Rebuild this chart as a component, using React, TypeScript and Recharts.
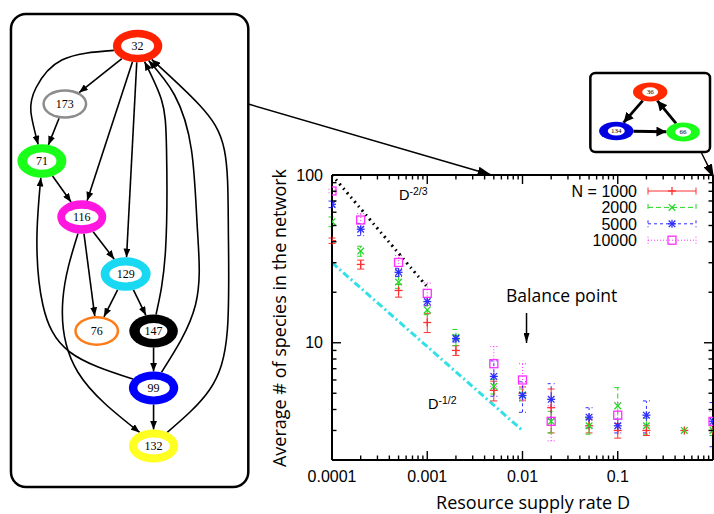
import React from "react";
import {
  ComposedChart,
  ScatterChart,
  Scatter,
  XAxis,
  YAxis,
  ErrorBar,
  ReferenceLine,
  ReferenceArea,
  Legend,
} from "recharts";

// Resource supply rate D (shared x values)
const supplyRate = [0.0001, 0.0002, 0.0005, 0.001, 0.002, 0.005, 0.01, 0.02, 0.05, 0.1, 0.2, 0.5, 1];

// Average # of species per network size N (null = no point drawn)
const speciesN1000 = [40.6, 29.3, 20.5, 13.2, 9.0, 5.2, 5.0, 4.1, 3.2, 3.0, 3.0, 3.0, 3.0];
const errN1000 = [1.5, 1.8, 1.8, 1.7, 0.6, 0.7, 0.45, 1.2, 0.3, 0.3, 0.2, 0, 0.2];
const speciesN2000 = [52.7, 35.2, 23.0, 15.7, 10.8, 5.5, 4.9, 3.4, 3.2, 4.2, 3.2, 3.0, 3.0];
const errN2000 = [3.5, 2.4, 1.9, 1.0, 1.2, 0.55, 0.4, 0.5, 0.35, 1.2, 0.35, 0, 0.2];
const speciesN5000 = [66.9, 47.5, 26.3, 17.6, 10.6, 6.3, 4.85, 4.6, 3.6, 3.2, 3.7, null, 3.4];
const errN5000 = [3, 4, 1.5, 1.0, 0.5, 1.5, 1.0, 1.1, 0.5, 0.3, 0.8, 0, 1.0];
const speciesN10000 = [80.3, 53.9, 30.1, 19.7, null, 7.5, 6.0, 3.4, null, 3.7, null, null, 3.4];
const errN10000 = [2, 5, 3, 3, 0, 2, 1.5, 0.8, 0, 0.7, 0, 0, 0.5];

const seriesNames = ["N = 1000", "2000", "5000", "10000"];
const seriesValues = [speciesN1000, speciesN2000, speciesN5000, speciesN10000];
const seriesErrors = [errN1000, errN2000, errN5000, errN10000];

// power-law guide lines
const slopeTwoThirds = [{ x: 0.0001, y: 100 }, { x: 0.001, y: 21.5 }];
const slopeOneHalf = [{ x: 0.0001, y: 30 }, { x: 0.01, y: 3 }];

// ticks
const xMajorTicks = [0.0001, 0.001, 0.01, 0.1, 1];
const xTickLabels = ["0.0001", "0.001", "0.01", "0.1", ""];
const xMinorTicks = [0.0001, 0.001, 0.01, 0.1].flatMap((d) => [2, 3, 4, 5, 6, 7, 8, 9].map((m) => m * d));
const yMajorTicks = [10, 100];
const yTickLabels = ["10", "100"];
const yMinorTicks = [2, 3, 4, 5, 6, 7, 8, 9, 20, 30, 40, 50, 60, 70, 80, 90];

// network (left panel)
const graphNodes = ["32", "173", "71", "116", "129", "76", "147", "99", "132"];
const graphX = [138, 65, 42, 82, 126, 97, 154, 154, 154];
const graphY = [46, 104, 161, 217, 274, 331, 331, 388, 446];
const graphEdges: [string, string][] = [
  ["32", "173"], ["32", "71"], ["173", "71"], ["32", "116"], ["32", "129"],
  ["71", "116"], ["116", "129"], ["116", "76"], ["116", "132"], ["99", "71"],
  ["129", "76"], ["129", "147"], ["147", "99"], ["99", "132"],
  ["147", "32"], ["99", "32"], ["132", "32"],
];
const edgeBends: Record<string, [number, number][]> = {
  "32-71": [[62, 60], [36, 88], [31, 112]],
  "116-132": [[63, 300], [78, 372]],
  "99-71": [[70, 352], [43, 305], [37, 240]],
  "147-32": [[166, 250], [167, 150], [162, 100]],
  "99-32": [[196, 305], [198, 230], [192, 150], [175, 95]],
  "132-32": [[210, 390], [228, 330], [229, 230], [225, 150], [200, 105]],
};

// network (inset)
const insetNodes = ["36", "134", "66"];
const insetX = [652, 618, 685];
const insetY = [92, 131, 132];
const insetEdges: [string, string][] = [["36", "134"], ["134", "66"], ["66", "36"]];

const nodeStyle: Record<string, { color: string; o: [number, number]; i: [number, number]; fs: number }> = {
  "32": { color: "#ff2200", o: [24.7, 16.3], i: [16.5, 8.7], fs: 12 },
  "173": { color: "#8c8c8c", o: [22.5, 14.8], i: [20.0, 12.3], fs: 12 },
  "71": { color: "#1aff1a", o: [24.5, 16.7], i: [14.5, 8.8], fs: 12 },
  "116": { color: "#ff17e0", o: [24.5, 16.7], i: [16.7, 8.3], fs: 12 },
  "129": { color: "#19d8f2", o: [25, 16.7], i: [16.3, 8.5], fs: 12 },
  "76": { color: "#ff7b15", o: [22.5, 15], i: [20.0, 12.5], fs: 12 },
  "147": { color: "#000000", o: [24.3, 16.5], i: [13.8, 8], fs: 12 },
  "99": { color: "#0000ff", o: [24.7, 16.5], i: [16.2, 8.5], fs: 12 },
  "132": { color: "#ffff22", o: [24.7, 16.5], i: [16.2, 8.5], fs: 12 },
  "36": { color: "#ff2a00", o: [17.2, 9.5], i: [8, 4.7], fs: 7 },
  "134": { color: "#0000e0", o: [17.2, 9.3], i: [8.5, 4.6], fs: 7 },
  "66": { color: "#1aff1a", o: [16.7, 9.5], i: [8, 4.7], fs: 7 },
};

const seriesStyle = [
  { color: "#ff3030", dash: undefined as string | undefined, marker: "plus" },
  { color: "#22d822", dash: "5 3", marker: "cross" },
  { color: "#2d2dff", dash: "3 3", marker: "star" },
  { color: "#ff30ff", dash: "1 2", marker: "square" },
];

const SANS = "'Liberation Sans', Arial, sans-serif";
const TITLE = "'Open Sans', 'Liberation Sans', sans-serif";
const SERIF = "'Liberation Serif', 'Times New Roman', serif";

const isDecade = (v: number) => Math.abs(Math.log10(v) - Math.round(Math.log10(v))) < 1e-6;

function PointMarker({ kind, cx, cy, color }: { kind: string; cx: number; cy: number; color: string }) {
  const s = 4;
  const c = 3.3;
  if (kind === "square")
    return <rect x={cx - 4} y={cy - 4} width={8} height={8} fill="none" stroke={color} strokeWidth={1.3} />;
  const plus = (
    <>
      <line x1={cx - s} x2={cx + s} y1={cy} y2={cy} />
      <line x1={cx} x2={cx} y1={cy - s} y2={cy + s} />
    </>
  );
  const cross = (
    <>
      <line x1={cx - c} x2={cx + c} y1={cy - c} y2={cy + c} />
      <line x1={cx - c} x2={cx + c} y1={cy + c} y2={cy - c} />
    </>
  );
  return (
    <g stroke={color} strokeWidth={1.3}>
      {kind !== "cross" && plus}
      {kind !== "plus" && cross}
    </g>
  );
}

function XTick(props: any) {
  const { x, y, payload, side } = props;
  const v = payload.value;
  const major = isDecade(v);
  const len = major ? 9 : 4.5;
  const d = side === "bottom" ? -1 : 1;
  const i = xMajorTicks.indexOf(v);
  return (
    <g>
      <path d={`M${x},${y}L${x},${y + d * len}`} stroke="#000" strokeWidth={1.4} fill="none" />
      {side === "bottom" && i >= 0 && xTickLabels[i] && (
        <text x={x} y={y + 22} textAnchor="middle" fontFamily={SANS} fontSize={16} fill="#000">
          {xTickLabels[i]}
        </text>
      )}
    </g>
  );
}

function YTick(props: any) {
  const { x, y, payload, side } = props;
  const v = payload.value;
  const major = isDecade(v);
  const len = major ? 9 : 4.5;
  const d = side === "left" ? 1 : -1;
  const i = yMajorTicks.indexOf(v);
  return (
    <g>
      <path d={`M${x},${y}L${x + d * len},${y}`} stroke="#000" strokeWidth={1.4} fill="none" />
      {side === "left" && i >= 0 && (
        <text x={x - 9} y={y + 5.7} textAnchor="end" fontFamily={SANS} fontSize={16} fill="#000">
          {yTickLabels[i]}
        </text>
      )}
    </g>
  );
}

function renderLegend() {
  return (
    <svg width={170} height={72} style={{ display: "block" }}>
      {seriesNames.map((name, k) => {
        const st = seriesStyle[k];
        const cy = 11 + k * 16.4;
        return (
          <g key={name}>
            <text x={97} y={cy + 5.7} textAnchor="end" fontFamily={SANS} fontSize={16} fill="#000">
              {name}
            </text>
            <g stroke={st.color} strokeWidth={1} strokeDasharray={st.dash}>
              <line x1={108} x2={156} y1={cy} y2={cy} />
              <line x1={108} x2={108} y1={cy - 3.5} y2={cy + 3.5} />
              <line x1={156} x2={156} y1={cy - 3.5} y2={cy + 3.5} />
            </g>
            <PointMarker kind={st.marker} cx={132} cy={cy} color={st.color} />
          </g>
        );
      })}
    </svg>
  );
}

function MainPlot() {
  const allXTicks = [...xMajorTicks, ...xMinorTicks].sort((a, b) => a - b);
  const allYTicks = [...yMinorTicks, ...yMajorTicks].sort((a, b) => a - b);
  const axisLine = { stroke: "#000", strokeWidth: 2 };
  return (
    <ComposedChart width={714} height={514} margin={{ top: 174, right: 0, bottom: 14, left: 272 }}>
      <XAxis xAxisId="b" dataKey="x" type="number" scale="log" domain={[0.0001, 1]} allowDataOverflow
        ticks={allXTicks} interval={0} tickSize={0} tickMargin={0} height={40} tickLine={false}
        axisLine={axisLine} tick={<XTick side="bottom" />} />
      <XAxis xAxisId="t" orientation="top" dataKey="x" type="number" scale="log" domain={[0.0001, 1]} allowDataOverflow
        ticks={allXTicks} interval={0} tickSize={0} tickMargin={0} height={1} tickLine={false}
        axisLine={axisLine} tick={<XTick side="top" />} />
      <YAxis yAxisId="l" dataKey="y" type="number" scale="log" domain={[2, 100]} allowDataOverflow
        ticks={allYTicks} interval={0} tickSize={0} tickMargin={0} width={60} tickLine={false}
        axisLine={axisLine} tick={<YTick side="left" />} />
      <YAxis yAxisId="r" orientation="right" dataKey="y" type="number" scale="log" domain={[2, 100]} allowDataOverflow
        ticks={allYTicks} interval={0} tickSize={0} tickMargin={0} width={1} tickLine={false}
        axisLine={axisLine} tick={<YTick side="right" />} />

      <ReferenceLine xAxisId="b" yAxisId="l" segment={slopeTwoThirds} stroke="#000" strokeWidth={3}
        strokeDasharray="2 4 1.5 4" />
      <ReferenceLine xAxisId="b" yAxisId="l" segment={slopeOneHalf} stroke="#33e0e6" strokeWidth={3}
        strokeDasharray="7 3 2 3" />

      {seriesValues.map((vals, k) => {
        const st = seriesStyle[k];
        const data = supplyRate
          .map((d, i) => ({ x: d, y: vals[i], e: seriesErrors[k][i] }))
          .filter((p) => p.y != null);
        return (
          <Scatter key={seriesNames[k]} name={seriesNames[k]} data={data} xAxisId="b" yAxisId="l"
            isAnimationActive={false}
            shape={(p: any) => <PointMarker kind={st.marker} cx={p.cx} cy={p.cy} color={st.color} />}>
            <ErrorBar dataKey="e" direction="y" width={3.5} stroke={st.color} strokeWidth={1}
              strokeDasharray={st.dash} isAnimationActive={false} />
          </Scatter>
        );
      })}

      <text x={399} y={200} fontFamily={SANS} fontSize={14.5} fill="#000">
        D<tspan dy={-5} fontSize={10.5}>-2/3</tspan>
      </text>
      <text x={428} y={408.5} fontFamily={SANS} fontSize={14.5} fill="#000">
        D<tspan dy={-5} fontSize={10.5}>-1/2</tspan>
      </text>
      <text x={506} y={301.5} fontFamily={TITLE} fontSize={17.5} fill="#000">Balance point</text>
      <text x={533} y={509} textAnchor="middle" fontFamily={TITLE} fontSize={18} fill="#000">
        Resource supply rate D
      </text>
      <text transform="translate(286,318) rotate(-90)" textAnchor="middle" fontFamily={TITLE} fontSize={18} fill="#000">
        Average # of species in the network
      </text>

      <Legend content={renderLegend} layout="horizontal" verticalAlign="middle" align="center"
        wrapperStyle={{ position: "absolute", left: 540, top: 180, width: 170, height: 72 }} />
    </ComposedChart>
  );
}

type Pt = { x: number; y: number };

function clipToEllipse(id: string, cx: number, cy: number, tx: number, ty: number): Pt {
  const [rx, ry] = nodeStyle[id].o;
  const dx = tx - cx;
  const dy = ty - cy;
  const t = 1 / Math.sqrt((dx / rx) ** 2 + (dy / ry) ** 2);
  return { x: cx + dx * t, y: cy + dy * t };
}

function edgePoints(ids: string[], xs: number[], ys: number[], from: string, to: string, bends: [number, number][] = []) {
  const a = ids.indexOf(from);
  const b = ids.indexOf(to);
  const first = bends.length ? bends[0] : [xs[b], ys[b]];
  const last = bends.length ? bends[bends.length - 1] : [xs[a], ys[a]];
  const start = clipToEllipse(from, xs[a], ys[a], first[0], first[1]);
  const end = clipToEllipse(to, xs[b], ys[b], last[0], last[1]);
  return [start, ...bends.map(([x, y]) => ({ x, y })), end];
}

function NodeShape(p: any) {
  const st = nodeStyle[p.payload.id];
  return (
    <g>
      <ellipse cx={p.cx} cy={p.cy} rx={st.o[0]} ry={st.o[1]} fill={st.color} />
      <ellipse cx={p.cx} cy={p.cy} rx={st.i[0]} ry={st.i[1]} fill="#fff" />
      <text x={p.cx} y={p.cy} dy="0.35em" textAnchor="middle" fontFamily={SERIF} fontSize={st.fs} fill="#000">
        {p.payload.id}
      </text>
    </g>
  );
}

const noShape = () => <g />;

function roundBox(r: number) {
  return (p: any) => (
    <rect x={p.x} y={p.y} width={p.width} height={p.height} rx={r} ry={r} fill="none" stroke="#000" strokeWidth={2.5} />
  );
}

function Overlay() {
  const nodes = graphNodes.map((id, i) => ({ id, x: graphX[i], y: graphY[i] }));
  const inset = insetNodes.map((id, i) => ({ id, x: insetX[i], y: insetY[i] }));
  return (
    <ScatterChart width={714} height={514} margin={{ top: 0, right: 0, bottom: 0, left: 0 }}>
      <defs>
        <marker id="ah" viewBox="0 0 10 8" markerWidth={9} markerHeight={7} refX={10} refY={4} orient="auto" markerUnits="userSpaceOnUse">
          <path d="M0,0 L10,4 L0,8 z" fill="#000" />
        </marker>
        <marker id="ahThick" viewBox="0 0 10 10" markerWidth={10} markerHeight={10} refX={10} refY={5} orient="auto" markerUnits="userSpaceOnUse">
          <path d="M0,0 L10,5 L0,10 z" fill="#000" />
        </marker>
        <marker id="ahBig" viewBox="0 0 14 9" markerWidth={14} markerHeight={9} refX={14} refY={4.5} orient="auto" markerUnits="userSpaceOnUse">
          <path d="M0,0 L14,4.5 L0,9 z" fill="#000" />
        </marker>
        <marker id="ahThin" viewBox="0 0 10 6" markerWidth={10} markerHeight={6} refX={10} refY={3} orient="auto" markerUnits="userSpaceOnUse">
          <path d="M0,0 L10,3 L0,6 z" fill="#000" />
        </marker>
      </defs>
      <XAxis type="number" dataKey="x" domain={[0, 714]} hide />
      <YAxis type="number" dataKey="y" domain={[0, 514]} reversed hide />

      <ReferenceArea x1={11} x2={249} y1={14} y2={487} shape={roundBox(15)} />
      <ReferenceArea x1={592} x2={712} y1={73} y2={152} shape={roundBox(5)} />

      {graphEdges.map(([f, t]) => {
        const bends = edgeBends[`${f}-${t}`];
        return (
          <Scatter key={`${f}-${t}`} data={edgePoints(graphNodes, graphX, graphY, f, t, bends)}
            line={{ stroke: "#000", strokeWidth: 1.6, markerEnd: "url(#ah)" }}
            lineJointType={bends ? "natural" : "linear"} shape={noShape} isAnimationActive={false} />
        );
      })}
      {insetEdges.map(([f, t]) => (
        <Scatter key={`i${f}-${t}`} data={edgePoints(insetNodes, insetX, insetY, f, t)}
          line={{ stroke: "#000", strokeWidth: 2.8, markerEnd: "url(#ahThick)" }}
          lineJointType="linear" shape={noShape} isAnimationActive={false} />
      ))}

      <Scatter data={[{ x: 249, y: 104 }, { x: 493, y: 175 }]} line={{ stroke: "#000", strokeWidth: 1.5, markerEnd: "url(#ahBig)" }}
        shape={noShape} isAnimationActive={false} />
      <Scatter data={[{ x: 703, y: 152 }, { x: 716, y: 178 }]} line={{ stroke: "#000", strokeWidth: 1.5, markerEnd: "url(#ahBig)" }}
        shape={noShape} isAnimationActive={false} />
      <Scatter data={[{ x: 528, y: 313 }, { x: 528, y: 343 }]} line={{ stroke: "#000", strokeWidth: 1.5, markerEnd: "url(#ahThin)" }}
        shape={noShape} isAnimationActive={false} />

      <Scatter data={nodes} shape={NodeShape} isAnimationActive={false} />
      <Scatter data={inset} shape={NodeShape} isAnimationActive={false} />
    </ScatterChart>
  );
}

export default function App() {
  return (
    <div style={{ position: "absolute", left: 0, top: 0, width: 714, height: 514, background: "#fff" }}>
      <div style={{ position: "absolute", left: 0, top: 0 }}>
        <MainPlot />
      </div>
      <div style={{ position: "absolute", left: 0, top: 0 }}>
        <Overlay />
      </div>
    </div>
  );
}
